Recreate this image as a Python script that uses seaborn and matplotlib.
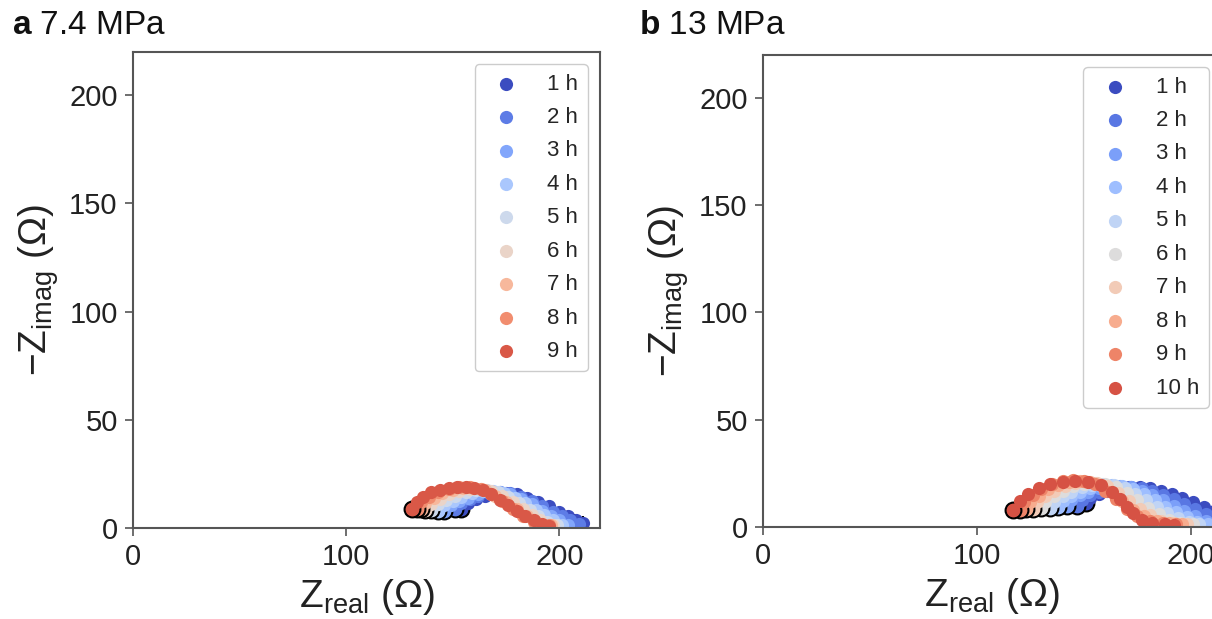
import numpy as np
import pandas as pd
import seaborn as sns
import matplotlib.pyplot as plt

# panel a, 7.4 MPa: Z_real / -Z_imag per hour
a1_re = [154, 157, 161, 165, 170, 175, 180, 185, 190, 195, 200, 204, 208, 211]
a1_im = [9, 11.5, 13.5, 15, 16, 16, 15.5, 14, 12, 10, 7.5, 5.5, 3.5, 2.5]
a2_re = [151, 154, 158, 162, 167, 172, 177, 182, 187, 192, 197, 201, 205, 209]
a2_im = [9, 11.5, 13.5, 15, 16, 16.5, 16, 14.5, 12.5, 10, 7.5, 5.5, 3.5, 2]
a3_re = [146, 149, 153, 157, 162, 167, 172, 177, 182, 187, 192, 196, 200, 204]
a3_im = [8, 10.5, 12.5, 14, 15.5, 16.5, 16.5, 15.5, 13.5, 11, 8, 5.5, 3.5, 1.5]
a4_re = [143, 146, 150, 154, 159, 164, 169, 174, 179, 184, 189, 193, 197, 201]
a4_im = [8, 10.5, 12.5, 14.5, 16, 17, 17, 16, 14, 11.5, 8.5, 6, 3.5, 1.5]
a5_re = [140, 143, 147, 151, 156, 161, 166, 171, 176, 181, 186, 190, 194, 199]
a5_im = [8.5, 11, 13, 15, 16.5, 17.5, 17.5, 16.5, 14.5, 11.5, 8.5, 5.5, 3, 1.5]
a6_re = [137, 140, 144, 148, 153, 158, 163, 168, 173, 178, 183, 187, 191, 197]
a6_im = [8.5, 11, 13.5, 15.5, 17, 18, 18, 17, 15, 12, 9, 6, 3.5, 1.5]
a7_re = [135, 137, 141, 145, 150, 155, 160, 165, 170, 175, 180, 185, 189, 196]
a7_im = [9, 11.5, 14, 16, 17.5, 18.5, 18.5, 17.5, 15, 12, 9, 5.5, 3, 1.5]
a8_re = [133, 135, 139, 143, 148, 153, 158, 163, 168, 173, 178, 183, 188, 195]
a8_im = [9, 12, 14.5, 16.5, 18, 19, 19, 18, 15.5, 12.5, 9, 5.5, 3, 1.5]
a9_re = [131, 133, 136, 140, 144, 148, 152, 156, 160, 164, 168, 172, 176, 180, 184, 188, 192, 195]
a9_im = [9, 12, 14.5, 16.5, 17.5, 18.5, 19, 19, 18.5, 17.5, 15.5, 13, 10.5, 8, 5.5, 3.5, 2, 1]
# low-frequency tail marks at the end of the 1 h curve
a_tail_re = [204, 207, 211]
a_tail_im = [4, 4.5, 3.5]

# panel b, 13 MPa
b1_re = [151, 153, 157, 161, 166, 171, 176, 181, 186, 191, 196, 201, 206, 211, 216, 221, 226]
b1_im = [11, 13.5, 15.5, 17, 18, 18.5, 18.5, 18, 17, 15.5, 13.5, 11.5, 9.5, 7.5, 5.5, 4, 3]
b2_re = [147, 149, 153, 157, 162, 167, 172, 177, 182, 187, 192, 197, 202, 207, 212, 217]
b2_im = [10, 12.5, 15, 16.5, 17.5, 18.5, 18.5, 18, 17, 15, 13, 10.5, 8.5, 6, 4, 2.5]
b3_re = [142, 144, 148, 152, 157, 162, 167, 172, 177, 182, 187, 192, 197, 202, 207, 212]
b3_im = [10, 12.5, 15, 16.5, 18, 19, 19, 18.5, 17, 15, 12.5, 10, 7.5, 5, 3, 2]
b4_re = [138, 140, 144, 148, 153, 158, 163, 168, 173, 178, 183, 188, 193, 198, 203, 208]
b4_im = [9.5, 12, 14.5, 16.5, 18, 19, 19.5, 19, 17.5, 15.5, 12.5, 9.5, 7, 4.5, 2.5, 1.5]
b5_re = [134, 136, 140, 144, 149, 154, 159, 164, 169, 174, 179, 184, 189, 194, 199, 204]
b5_im = [9, 11.5, 14.5, 16.5, 18.5, 19.5, 20, 19.5, 18, 15.5, 12.5, 9.5, 6.5, 4, 2.5, 1.5]
b6_re = [130, 132, 136, 140, 145, 150, 155, 160, 165, 170, 175, 180, 185, 190, 195, 201]
b6_im = [9, 11.5, 14.5, 17, 19, 20, 20.5, 20, 18.5, 16, 12.5, 9, 6, 3.5, 2, 1.5]
b7_re = [126, 128, 132, 136, 141, 146, 151, 156, 161, 166, 171, 176, 181, 186, 192, 198]
b7_im = [8.5, 11.5, 14.5, 17, 19, 20.5, 21, 20.5, 19, 16, 12, 8.5, 5.5, 3, 2, 1.5]
b8_re = [123, 125, 129, 133, 138, 143, 148, 153, 158, 163, 168, 173, 178, 184, 190, 196]
b8_im = [8.5, 11.5, 14.5, 17.5, 19.5, 21, 21.5, 21, 19.5, 16.5, 12, 8, 5, 3, 2, 1.5]
b9_re = [120, 122, 126, 130, 135, 140, 145, 150, 155, 160, 165, 170, 175, 181, 187, 193]
b9_im = [8, 11.5, 15, 17.5, 20, 21.5, 22, 21.5, 20, 17, 13, 8.5, 5, 3, 2, 1.5]
b10_re = [117, 120, 124, 129, 134, 140, 146, 152, 158, 163, 167, 170, 173, 177, 182, 188, 192]
b10_im = [8, 12, 15.5, 18, 20, 21, 21.5, 21, 19.5, 16.5, 13, 9.5, 6.5, 3.5, 2, 1.5, 1]

hours_a = ['1 h', '2 h', '3 h', '4 h', '5 h', '6 h', '7 h', '8 h', '9 h']
hours_b = ['1 h', '2 h', '3 h', '4 h', '5 h', '6 h', '7 h', '8 h', '9 h', '10 h']
series_a = [(a1_re, a1_im), (a2_re, a2_im), (a3_re, a3_im), (a4_re, a4_im), (a5_re, a5_im),
            (a6_re, a6_im), (a7_re, a7_im), (a8_re, a8_im), (a9_re, a9_im)]
series_b = [(b1_re, b1_im), (b2_re, b2_im), (b3_re, b3_im), (b4_re, b4_im), (b5_re, b5_im),
            (b6_re, b6_im), (b7_re, b7_im), (b8_re, b8_im), (b9_re, b9_im), (b10_re, b10_im)]

sns.set_theme(style='ticks')
plt.rcParams['font.family'] = ['Liberation Sans', 'DejaVu Sans']
plt.rcParams['mathtext.fontset'] = 'custom'
plt.rcParams['mathtext.rm'] = 'Liberation Sans'
plt.rcParams['mathtext.bf'] = 'Liberation Sans:bold'

cmap = plt.get_cmap('coolwarm')
fig = plt.figure(figsize=(12.12, 6.19), dpi=100)
ax_a = fig.add_axes([0.1097, 0.147, 0.3853, 0.769])
ax_b = fig.add_axes([0.6295, 0.1486, 0.3778, 0.7625])


def nyquist(ax, series, hours, xmax):
    colors = cmap(np.linspace(0, 1, len(hours) + 1))[:len(hours)]
    for (zr, zi), hr, c in zip(series, hours, colors):
        # black ring on the first (high frequency) point
        ax.scatter(zr[:1], zi[:1], s=130, color=c, edgecolor='black', linewidth=1.5, zorder=2)
        df = pd.DataFrame({'re': zr, 'im': zi})
        sns.scatterplot(df, x='re', y='im', ax=ax, color=c, s=90, linewidth=0,
                        label=hr, zorder=2)
    ax.set_xlim(0, xmax)
    ax.set_ylim(0, 220)
    ax.set_xticks([0, 100, 200])
    ax.set_yticks([0, 50, 100, 150, 200])
    ax.tick_params(labelsize=21, length=6, width=1.2, color='#555555', labelcolor='#222222', pad=5)
    for sp in ax.spines.values():
        sp.set_color('#555555')
        sp.set_linewidth(1.5)
    ax.set_xlabel(r'$\mathregular{Z_{real}}$ (Ω)', fontsize=28, color='#222222', labelpad=4)
    ax.set_ylabel(r'$\mathregular{-Z_{imag}}$ (Ω)', fontsize=28, color='#222222', labelpad=6)
    ax.legend(loc='upper right', fontsize=16, handlelength=2.0, handletextpad=0.85,
              labelspacing=0.56, borderpad=0.42, borderaxespad=0.55, edgecolor='#cccccc',
              fancybox=True, framealpha=1)


nyquist(ax_a, series_a, hours_a, 219)
ax_a.scatter(a_tail_re, a_tail_im, marker='|', s=40, color='black', linewidth=1.5, zorder=1)
nyquist(ax_b, series_b, hours_b, 214)

fig.text(0.01, 0.958, r'$\mathbf{a}$ 7.4 MPa', fontsize=24, va='center', color='#111111')
fig.text(0.527, 0.958, r'$\mathbf{b}$ 13 MPa', fontsize=24, va='center', color='#111111')

fig.savefig('out.png', dpi=100)
